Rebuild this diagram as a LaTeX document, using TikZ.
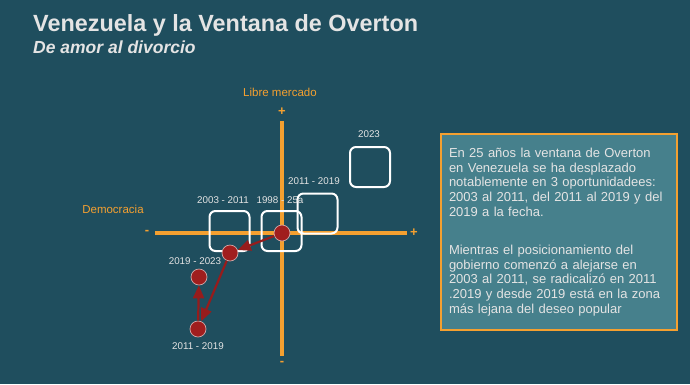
\documentclass[tikz,border=0pt]{standalone}
\usepackage{fontspec}
\setmainfont{Liberation Sans}
\usetikzlibrary{arrows.meta, positioning}
\definecolor{fondo}{HTML}{1F4E5E}
\definecolor{naranja}{HTML}{F4A030}
\definecolor{caja}{HTML}{46808C}
\definecolor{rojo}{HTML}{A01E1E}
\definecolor{flecha}{HTML}{961C1C}
\definecolor{claro}{HTML}{E4E4E4}

\begin{document}
\begin{tikzpicture}[x=1pt, y=-1pt,
  ventana/.style={draw=white, line width=2pt, rounded corners=6pt, minimum size=40pt},
  punto/.style={circle, fill=rojo, draw=claro!70!rojo, line width=0.7pt, minimum size=16pt, inner sep=0pt},
  etiqueta/.style={text=claro, font=\fontsize{9.8}{11}\selectfont},
  eje/.style={naranja, line width=4.5pt},
  signo/.style={text=naranja, font=\bfseries\fontsize{13}{13}\selectfont},
  rotulo/.style={text=naranja, font=\fontsize{11.5}{13}\selectfont},
  flechita/.style={-{Triangle[length=13pt, width=11pt]}, flecha, line width=2.2pt}
]
  \fill[fondo] (0,0) rectangle (690,384);

  \node[anchor=base west, inner sep=0pt, text=claro, font=\bfseries\fontsize{23.4}{27}\selectfont] (titulo) at (33,31) {Venezuela y la Ventana de Overton};
  \node[anchor=base west, inner sep=0pt, text=claro, font=\bfseries\itshape\fontsize{17.5}{20}\selectfont] (subtitulo) at (33,53) {De amor al divorcio};

  \coordinate (arriba) at (282,121);
  \coordinate (abajo) at (282,356);
  \coordinate (izq) at (155,233);
  \coordinate (der) at (407,233);
  \draw[eje] (izq) -- (der);
  \draw[eje] (arriba) -- (abajo);

  \node[signo] (masy) at (282,112) {+};
  \node[signo] (menosy) at (282,363) {-};
  \node[signo] (menosx) at (147,232) {-};
  \node[signo] (masx) at (414,233) {+};
  \node[rotulo] (libre) at (280,92) {Libre mercado};
  \node[rotulo] (demo) at (113,209) {Democracia};

  \node[ventana] (v2023) at (370,167) {};
  \node[ventana] (v1119) at (317.5,213.5) {};
  \node[ventana] (v9825) at (281.5,231) {};
  \node[ventana] (v0311) at (229.5,231) {};

  \node[etiqueta] (t2023) at (369,134) {2023};
  \node[etiqueta] (t1119) at (314,181) {2011 - 2019};
  \node[etiqueta] (t9825) at (280,200) {1998 - 25a};
  \node[etiqueta] (t0311) at (223,200) {2003 - 2011};

  \node[punto] (p9825) at (282,233) {};
  \node[punto] (p0311) at (230,253) {};
  \node[punto] (p1923) at (199,277) {};
  \node[punto] (p1119) at (198,329) {};
  \node[etiqueta] (e1923) at (195,261) {2019 - 2023};
  \node[etiqueta] (e1119) at (198,346) {2011 - 2019};

  \draw[flechita] (p9825) -- (p0311);
  \draw[flechita] (p0311) -- (p1119);
  \draw[flechita] (p1119) -- (p1923);

  \node[draw=naranja, line width=2pt, fill=caja, text=claro, anchor=north west, text width=220pt, inner xsep=8pt,
        minimum width=236pt, minimum height=196pt, align=left, font=\fontsize{13}{14.6}\selectfont] (nota) at (440,133)
  {En 25 años la ventana de Overton\\
   en Venezuela se ha desplazado\\
   notablemente en 3 oportunidadees:\\
   2003 al 2011, del 2011 al 2019 y del\\
   2019 a la fecha.\\[24pt]
   Mientras el posicionamiento del\\
   gobierno comenzó a alejarse en\\
   2003 al 2011, se radicalizó en 2011\\
   .2019 y desde 2019 está en la zona\\
   más lejana del deseo popular};
\end{tikzpicture}
\end{document}
